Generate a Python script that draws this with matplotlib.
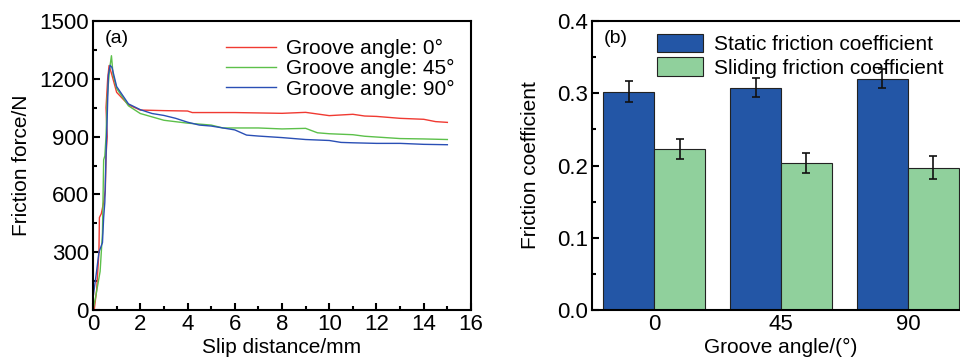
import matplotlib
matplotlib.use("Agg")
import matplotlib.pyplot as plt
import numpy as np
from matplotlib.ticker import MultipleLocator

plt.rcParams["font.family"] = ["Liberation Sans", "DejaVu Sans"]

# (a) friction force vs slip distance
red_x = [0.05, 0.15, 0.25, 0.27, 0.35, 0.45, 0.52, 0.55, 0.6, 0.55, 0.62, 0.68, 0.8,
         1.0, 1.5, 2.0, 3.0, 4.0, 4.2, 6.0, 8.0, 9.0, 10.0, 11.0, 11.5, 12.0, 13.0,
         14.0, 14.5, 15.0]
red_y = [0, 100, 300, 480, 500, 560, 620, 800, 900, 1050, 1200, 1269, 1220,
         1130, 1065, 1038, 1035, 1033, 1025, 1025, 1021, 1026, 1009, 1016, 1007,
         1005, 995, 990, 978, 974]

green_x = [0.0, 0.1, 0.3, 0.4, 0.45, 0.5, 0.55, 0.6, 0.7, 0.78, 0.85, 1.0, 1.5,
           2.0, 3.0, 4.0, 4.5, 5.0, 5.5, 6.0, 7.0, 8.0, 9.0, 9.5, 10.0, 11.0,
           11.5, 12.0, 13.0, 14.0, 15.0]
green_y = [0, 60, 200, 400, 780, 800, 900, 1100, 1250, 1320, 1220, 1150, 1060,
           1020, 985, 970, 965, 960, 945, 945, 945, 940, 943, 920, 915, 910,
           902, 898, 890, 888, 885]

blue_x = [0.02, 0.15, 0.25, 0.4, 0.45, 0.5, 0.55, 0.6, 0.65, 0.72, 0.8, 1.0, 1.5,
          2.0, 2.5, 3.0, 3.5, 4.0, 4.5, 5.0, 5.5, 6.0, 6.5, 7.0, 8.0, 9.0, 10.0,
          10.5, 11.0, 12.0, 13.0, 14.0, 15.0]
blue_y = [80, 200, 300, 350, 480, 560, 800, 1000, 1220, 1270, 1260, 1160, 1070,
          1040, 1020, 1010, 995, 975, 960, 955, 945, 935, 908, 903, 895, 885, 880,
          870, 868, 865, 865, 860, 858]

# (b) friction coefficients
angles = ["0", "45", "90"]
static_mu = [0.302, 0.308, 0.320]
static_err = [0.0146, 0.0136, 0.013]
sliding_mu = [0.223, 0.203, 0.197]
sliding_err = [0.0143, 0.0139, 0.0157]

fig = plt.figure(figsize=(9.6, 3.63), dpi=100)
ax1 = fig.add_axes([0.0969, 0.146, 0.3937, 0.796])
ax2 = fig.add_axes([0.6167, 0.146, 0.3937, 0.796])

fs = 15
for ax in (ax1, ax2):
    for s in ax.spines.values():
        s.set_linewidth(1.5)
    ax.tick_params(direction="in", which="both", labelsize=16, width=1.5, pad=3)
    ax.tick_params(which="major", length=5)
    ax.tick_params(which="minor", length=3)

ax1.plot(red_x, red_y, color="#f03a32", lw=1, label="Groove angle: 0°")
ax1.plot(green_x, green_y, color="#5cc04a", lw=1, label="Groove angle: 45°")
ax1.plot(blue_x, blue_y, color="#2a4fb5", lw=1, label="Groove angle: 90°")
ax1.set_xlim(0, 16)
ax1.set_ylim(0, 1500)
ax1.xaxis.set_major_locator(MultipleLocator(2))
ax1.xaxis.set_minor_locator(MultipleLocator(1))
ax1.yaxis.set_major_locator(MultipleLocator(300))
ax1.yaxis.set_minor_locator(MultipleLocator(150))
ax1.set_xlabel("Slip distance/mm", fontsize=fs, labelpad=2)
ax1.set_ylabel("Friction force/N", fontsize=fs, labelpad=6)
ax1.text(0.03, 0.97, "(a)", transform=ax1.transAxes, fontsize=14, va="top")
ax1.legend(loc="upper right", frameon=False, fontsize=fs, handlelength=2.4,
           borderaxespad=0.2, labelspacing=0.05, handletextpad=0.5,
           bbox_to_anchor=(0.99, 0.98))

x = np.arange(len(angles))
w = 0.4
ax2.bar(x - w / 2, static_mu, w, yerr=static_err, color="#2356a6",
        edgecolor="#222222", linewidth=0.8, capsize=3,
        error_kw=dict(elinewidth=1.2, capthick=1.2, ecolor="#111111"),
        label="Static friction coefficient")
ax2.bar(x + w / 2, sliding_mu, w, yerr=sliding_err, color="#90d09c",
        edgecolor="#222222", linewidth=0.8, capsize=3,
        error_kw=dict(elinewidth=1.2, capthick=1.2, ecolor="#111111"),
        label="Sliding friction coefficient")
ax2.set_xlim(-0.49, 2.49)
ax2.set_ylim(0, 0.4)
ax2.set_xticks(x, angles)
ax2.tick_params(axis="x", which="both", length=0)
ax2.yaxis.set_major_locator(MultipleLocator(0.1))
ax2.yaxis.set_minor_locator(MultipleLocator(0.05))
ax2.yaxis.set_major_formatter(matplotlib.ticker.FormatStrFormatter("%.1f"))
ax2.set_xlabel("Groove angle/(°)", fontsize=fs, labelpad=2)
ax2.set_ylabel("Friction coefficient", fontsize=fs, labelpad=12)
ax2.text(0.03, 0.97, "(b)", transform=ax2.transAxes, fontsize=14, va="top")
ax2.legend(loc="upper left", frameon=False, fontsize=fs, handlelength=2.2,
           handleheight=1.0, borderaxespad=0.2, labelspacing=0.15,
           handletextpad=0.5, bbox_to_anchor=(0.14, 1.0))

fig.savefig("out.png", dpi=100)
